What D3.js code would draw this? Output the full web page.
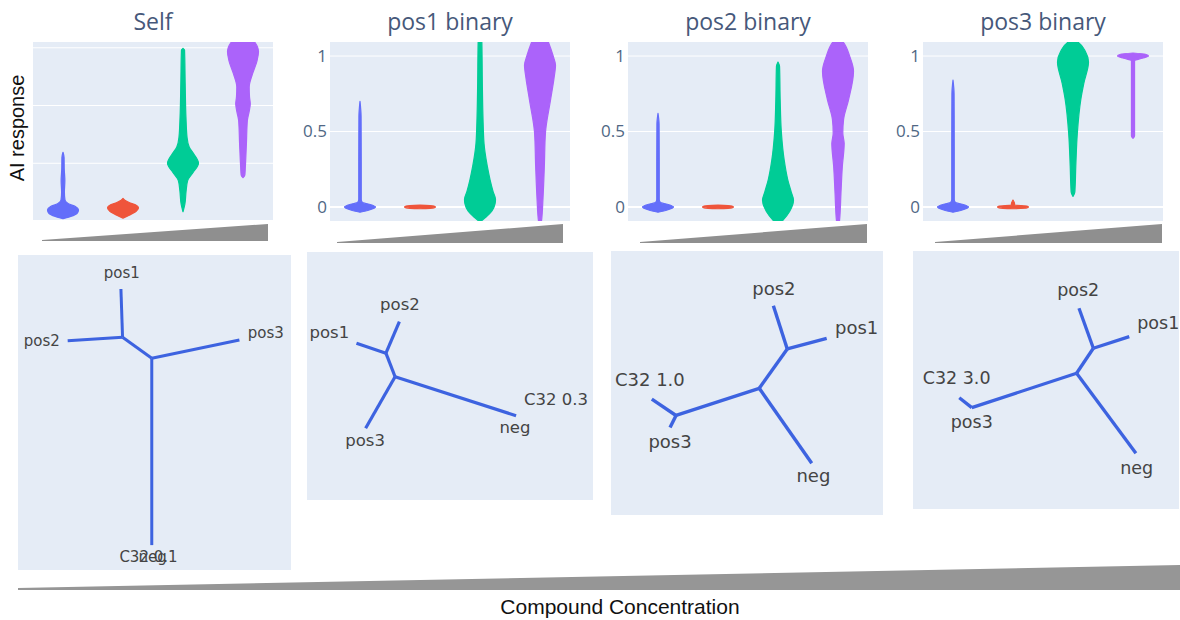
<!DOCTYPE html>
<html lang="en">
<head>
<meta charset="utf-8">
<title>AI response vs compound concentration</title>
<script src="https://d3js.org/d3.v7.min.js"></script>
<style>
  body { margin: 0; background: #fff; }
  svg text { font-family: "Open Sans", sans-serif; }
  .title { fill: #46587a; font-size: 23px; }
  .ticklabel { fill: #506784; font-size: 17px; }
  .leaf { font-family: "DejaVu Sans", sans-serif; fill: #444; }
  .axtitle { font-family: "Liberation Sans", Arial, sans-serif; fill: #111; font-size: 20px; }
</style>
</head>
<body>
<script>
// ---- top row: violins of AI response per concentration level ----
const titles = ["Self", "pos1 binary", "pos2 binary", "pos3 binary"];
const levels = ["c0", "c1", "c2", "c3"];
const colors = ["#636efa", "#ef553b", "#00cc96", "#ab63fa"];
const yDomains = [[0, 3.1], [-0.093, 1.093], [-0.093, 1.093], [-0.093, 1.093]];
const yTicks = [[0, 1, 2, 3], [0, 0.5, 1], [0, 0.5, 1], [0, 0.5, 1]];
const showTickLabels = [false, true, true, true];

// violin outlines: [response, relative half-width]
const selfViolins = [
  [[0.04,0],[0.08,0.5],[0.13,0.9],[0.19,1],[0.25,0.8],[0.3,0.35],[0.36,0.13],[0.5,0.09],[0.7,0.12],[0.9,0.08],[1.1,0.07],[1.19,0]],
  [[0.05,0],[0.1,0.4],[0.17,0.85],[0.23,1],[0.28,0.8],[0.32,0.4],[0.36,0.12],[0.39,0]],
  [[0.16,0],[0.29,0.12],[0.52,0.2],[0.7,0.3],[0.84,0.65],[1.0,1],[1.16,0.7],[1.28,0.4],[1.45,0.26],[1.8,0.19],[2.38,0.14],[2.96,0.1],[2.99,0]],
  [[0.75,0],[0.8,0.12],[0.93,0.15],[1.34,0.22],[1.74,0.28],[1.9,0.4],[2.03,0.47],[2.15,0.42],[2.32,0.4],[2.56,0.63],[2.77,0.9],[2.93,1],[3.1,0.75],[3.2,0.4],[3.3,0]]
];
const pos1Violins = [
  [[-0.035,0],[-0.02,0.6],[0,1],[0.018,0.6],[0.03,0.15],[0.05,0.08],[0.3,0.08],[0.6,0.07],[0.7,0]],
  [[-0.012,0],[-0.006,0.9],[0,1],[0.006,0.9],[0.012,0]],
  [[-0.1,0],[-0.07,0.35],[-0.03,0.75],[0.02,0.97],[0.05,1],[0.1,0.85],[0.18,0.65],[0.27,0.47],[0.42,0.26],[0.6,0.19],[0.82,0.15],[1.09,0.12],[1.15,0]],
  [[-0.15,0],[-0.09,0.1],[0.05,0.19],[0.27,0.28],[0.49,0.35],[0.71,0.68],[0.85,0.9],[0.94,1],[1.0,0.85],[1.09,0.55],[1.15,0.3],[1.2,0]]
];
const pos2Violins = [
  [[-0.035,0],[-0.02,0.6],[0,1],[0.018,0.6],[0.03,0.15],[0.05,0.08],[0.3,0.08],[0.55,0.07],[0.62,0]],
  [[-0.012,0],[-0.006,0.9],[0,1],[0.006,0.9],[0.012,0]],
  [[-0.12,0],[-0.09,0.3],[-0.03,0.75],[0.046,1],[0.1,0.85],[0.18,0.63],[0.31,0.4],[0.49,0.22],[0.71,0.14],[0.93,0.1],[0.96,0]],
  [[-0.15,0],[-0.09,0.1],[0.09,0.19],[0.27,0.28],[0.42,0.4],[0.49,0.31],[0.58,0.36],[0.71,0.68],[0.9,1],[1.0,0.75],[1.09,0.35],[1.13,0]]
];
const pos3Violins = [
  [[-0.035,0],[-0.02,0.6],[0,1],[0.018,0.6],[0.03,0.15],[0.05,0.08],[0.4,0.08],[0.75,0.07],[0.84,0]],
  [[-0.012,0],[-0.006,0.9],[0,1],[0.006,0.9],[0.012,0.12],[0.03,0.08],[0.046,0]],
  [[0.07,0],[0.1,0.12],[0.27,0.18],[0.49,0.28],[0.71,0.5],[0.82,0.7],[0.96,1],[1.03,0.8],[1.093,0.3],[1.11,0]],
  [[0.455,0],[0.47,0.1],[0.8,0.1],[0.97,0.1],[0.985,0.6],[1,1],[1.012,0.8],[1.02,0]]
];
const allViolins = [selfViolins, pos1Violins, pos2Violins, pos3Violins];

// ---- bottom row: unrooted trees, node positions in % of panel ----
const treeSelfNodes = [["pos1",37.7,10.8],["n1",38.3,26.1],["pos2",18.2,27.2],["n2",49.0,32.8],["pos3",81.1,27.0],["neg",49.0,92.1]];
const treeSelfEdges = [["n1","pos1"],["n1","pos2"],["n1","n2"],["n2","pos3"],["n2","neg"]];
const treeSelfLabels = [["pos1",38.0,5.7],["pos2",8.7,27.2],["pos3",90.8,24.8],["C32 0.1",47.8,95.9],["neg",49.3,95.9]];

const tree1Nodes = [["pos2",32.3,28.1],["n1",27.6,40.8],["pos1",17.3,36.8],["n2",30.8,50.3],["pos3",20.5,71.1],["neg",73.1,66.0]];
const tree1Edges = [["n1","pos2"],["n1","pos1"],["n1","n2"],["n2","pos3"],["n2","neg"]];
const tree1Labels = [["pos2",32.5,21.1],["pos1",7.8,32.4],["pos3",20.3,75.8],["neg",72.7,70.8],["C32 0.3",87.1,59.3]];

const tree2Nodes = [["pos2",59.7,20.7],["na",64.8,37.1],["pos1",79.3,33.1],["nb",54.5,52.0],["neg",73.8,80.4],["nc",23.9,62.3],["c32",15.0,56.1],["pos3",21.7,66.9]];
const tree2Edges = [["na","pos2"],["na","pos1"],["na","nb"],["nb","neg"],["nb","nc"],["nc","c32"],["nc","pos3"]];
const tree2Labels = [["pos2",59.9,14.1],["pos1",90.3,29.1],["C32 1.0",14.3,48.9],["pos3",21.7,72.2],["neg",74.4,85.1]];

const tree3Nodes = [["pos2",62.4,22.2],["na",67.8,37.7],["pos1",81.3,33.2],["nb",61.5,47.4],["neg",83.8,78.4],["nc",22.1,60.7],["c32",17.4,56.9],["pos3",22.1,60.7]];
const tree3Edges = [["na","pos2"],["na","pos1"],["na","nb"],["nb","neg"],["nb","nc"],["nc","c32"],["nc","pos3"]];
const tree3Labels = [["pos2",62.1,15.1],["pos1",92.2,28.0],["C32 3.0",16.4,49.3],["pos3",22.1,66.2],["neg",84.1,84.2]];

const trees = [
  {nodes: treeSelfNodes, edges: treeSelfEdges, labels: treeSelfLabels},
  {nodes: tree1Nodes, edges: tree1Edges, labels: tree1Labels},
  {nodes: tree2Nodes, edges: tree2Edges, labels: tree2Labels},
  {nodes: tree3Nodes, edges: tree3Edges, labels: tree3Labels}
];

// concentration ramp drawn as wedges
const ramp = [0, 1];

// ---------------- layout ----------------
let w = 1180, h = 620;
let violinBoxes = [[33, 273], [330, 570], [628, 868], [923, 1163]];
let vTop = 42, vBottom = 221;
let wedgeBoxes = [[42, 268, 241, 17], [337, 563, 243, 19], [640, 867, 243, 19], [935, 1162, 243, 19]];
let treeBoxes = [[18, 255, 273, 315], [307, 252, 286, 248], [611, 251, 272, 264], [913, 251, 266, 258]];
let leafSizes = [15, 16.5, 18, 17.5];
let strokeW = [3, 3.2, 3.4, 3.3];

let svg = d3.select("body").append("svg")
  .attr("width", w).attr("height", h);

let defs = svg.append("defs");

violinBoxes.forEach((box, i) => {
  let xScale = d3.scaleBand().domain(levels).range(box);
  let yScale = d3.scaleLinear().domain(yDomains[i]).range([vBottom, vTop]);
  let halfW = d3.scaleLinear().domain([0, 1]).range([0, 15.5]);

  defs.append("clipPath").attr("id", "clip" + i)
    .append("rect")
    .attr("x", box[0]).attr("y", vTop)
    .attr("width", box[1] - box[0]).attr("height", vBottom - vTop);

  let g = svg.append("g");
  g.append("rect")
    .attr("x", box[0]).attr("y", vTop)
    .attr("width", box[1] - box[0]).attr("height", vBottom - vTop)
    .attr("fill", "#e5ecf6");

  g.selectAll(".grid")
    .data(yTicks[i])
    .enter()
    .append("line")
    .attr("x1", box[0]).attr("x2", box[1])
    .attr("y1", d => yScale(d)).attr("y2", d => yScale(d))
    .attr("stroke", "#fff")
    .attr("stroke-width", d => d === 0 ? 2 : 1);

  if (showTickLabels[i]) {
    g.selectAll(".ticklabel")
      .data(yTicks[i])
      .enter()
      .append("text")
      .attr("class", "ticklabel")
      .attr("x", box[0] - 3)
      .attr("y", d => yScale(d))
      .attr("dy", "0.35em")
      .attr("text-anchor", "end")
      .text(d => d3.format("~g")(d));
  }

  let area = d3.area()
    .curve(d3.curveMonotoneY)
    .y(d => yScale(d[0]));

  g.append("g").attr("clip-path", "url(#clip" + i + ")")
    .selectAll("path")
    .data(allViolins[i])
    .enter()
    .append("path")
    .attr("d", (d, j) => {
      let cx = xScale(levels[j]) + xScale.bandwidth() / 2;
      return area.x0(p => cx - halfW(p[1])).x1(p => cx + halfW(p[1]))(d);
    })
    .attr("fill", (d, j) => colors[j])
    .attr("stroke", (d, j) => colors[j])
    .attr("stroke-width", 1.2)
    .attr("stroke-linejoin", "round");

  svg.append("text")
    .attr("class", "title")
    .attr("x", (box[0] + box[1]) / 2)
    .attr("y", 30)
    .attr("text-anchor", "middle")
    .text(titles[i]);
});

// little concentration wedges under each violin plot, and the big one
function wedge(x0, x1, bottom, height, start, fill) {
  let x = d3.scaleLinear().domain([0, 1]).range([x0, x1]);
  let hh = d3.scaleLinear().domain([0, 1]).range([start, height]);
  svg.append("path")
    .datum(ramp)
    .attr("d", d3.area().x(d => x(d)).y0(bottom).y1(d => bottom - hh(d)))
    .attr("fill", fill);
}
wedgeBoxes.forEach(b => wedge(b[0], b[1], b[2], b[3], 1, "#8f8f8f"));
wedge(18, 1180, 590, 25, 2, "#969696");

// trees
trees.forEach((t, i) => {
  let b = treeBoxes[i];
  let x = d3.scaleLinear().domain([0, 100]).range([b[0], b[0] + b[2]]);
  let y = d3.scaleLinear().domain([0, 100]).range([b[1], b[1] + b[3]]);
  let pos = new Map(t.nodes.map(n => [n[0], n]));
  let g = svg.append("g");

  g.append("rect")
    .attr("x", b[0]).attr("y", b[1])
    .attr("width", b[2]).attr("height", b[3])
    .attr("fill", "#e5ecf6");

  g.selectAll("line")
    .data(t.edges)
    .enter()
    .append("line")
    .attr("x1", d => x(pos.get(d[0])[1]))
    .attr("y1", d => y(pos.get(d[0])[2]))
    .attr("x2", d => x(pos.get(d[1])[1]))
    .attr("y2", d => y(pos.get(d[1])[2]))
    .attr("stroke", "#3d63e0")
    .attr("stroke-width", strokeW[i])
    .attr("stroke-linecap", "butt");

  g.selectAll("text")
    .data(t.labels)
    .enter()
    .append("text")
    .attr("class", "leaf")
    .attr("x", d => x(d[1]))
    .attr("y", d => y(d[2]))
    .attr("dy", "0.35em")
    .attr("text-anchor", "middle")
    .attr("font-size", leafSizes[i] + "px")
    .text(d => d[0]);
});

svg.append("text")
  .attr("class", "axtitle")
  .attr("transform", "translate(24,128) rotate(-90)")
  .attr("text-anchor", "middle")
  .text("AI response");

svg.append("text")
  .attr("class", "axtitle")
  .attr("x", 620)
  .attr("y", 614)
  .attr("text-anchor", "middle")
  .attr("font-size", "21px")
  .style("font-size", "21px")
  .text("Compound Concentration");
</script>
</body>
</html>
